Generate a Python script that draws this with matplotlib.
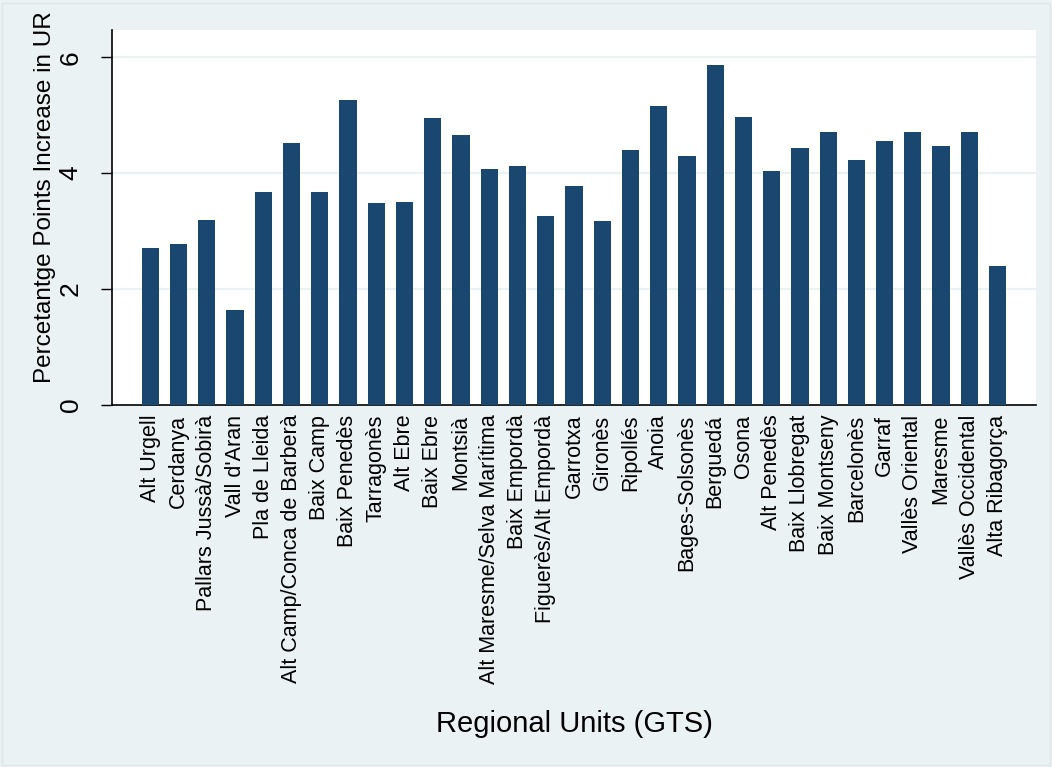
import matplotlib
matplotlib.use("Agg")
import matplotlib.pyplot as plt
import numpy as np

plt.rcParams['font.family'] = ['Liberation Sans', 'DejaVu Sans']

regions = ["Alt Urgell", "Cerdanya", "Pallars Jussà/Sobirà", "Vall d'Aran",
           "Pla de Lleida", "Alt Camp/Conca de Barberà", "Baix Camp",
           "Baix Penedès", "Tarragonès", "Alt Ebre", "Baix Ebre", "Montsià",
           "Alt Maresme/Selva Marítima", "Baix Empordà", "Figuerès/Alt Empordà",
           "Garrotxa", "Gironès", "Ripollés", "Anoia", "Bages-Solsonès",
           "Berguedá", "Osona", "Alt Penedès", "Baix Llobregat", "Baix Montseny",
           "Barcelonès", "Garraf", "Vallès Oriental", "Maresme",
           "Vallès Occidental", "Alta Ribagorça"]
increase = [2.71, 2.78, 3.19, 1.64, 3.67, 4.52, 3.67, 5.27, 3.48, 3.50,
            4.96, 4.66, 4.07, 4.12, 3.26, 3.77, 3.17, 4.40, 5.16, 4.30,
            5.87, 4.97, 4.04, 4.44, 4.71, 4.23, 4.56, 4.71, 4.46, 4.71, 2.40]
yticks = [0, 2, 4, 6]

bg = '#eaf2f3'
navy = '#1a476f'

fig = plt.figure(figsize=(10.52, 7.67), dpi=100, facecolor=bg)
ax = fig.add_axes([112/1052, 1-405/767, 924/1052, 375/767])
ax.set_facecolor('white')

x = np.arange(len(regions))
ax.bar(x, increase, width=0.61, color=navy, zorder=3)

ax.set_xlim(-1.356, 31.36)
ax.set_ylim(0, 6.47)
ax.set_yticks(yticks)
ax.set_yticklabels([str(v) for v in yticks], rotation=90, va='center')
for v in yticks[1:]:
    ax.axhline(v, color=bg, lw=1.6, zorder=1)

ax.set_xticks(x)
ax.set_xticklabels(regions, rotation=90, fontsize=15.5)
ax.tick_params(axis='x', length=0, pad=7)
ax.tick_params(axis='y', length=8, width=1, pad=13, labelsize=19)

for s in ['top', 'right']:
    ax.spines[s].set_visible(False)
for s in ['left', 'bottom']:
    ax.spines[s].set_linewidth(1.2)

ax.set_ylabel('Percetantge Points Increase in UR', fontsize=17.5)
ax.yaxis.set_label_coords(-0.0725, 0.555)
ax.yaxis.label.set_va('center')
ax.set_xlabel('Regional Units (GTS)', fontsize=21)
ax.xaxis.set_label_coords(0.5, -0.851)
ax.xaxis.label.set_va('center')

fig.patches.append(plt.Rectangle((0.002, 0.002), 0.996, 0.994, transform=fig.transFigure,
                                 fill=False, edgecolor='#dfe6e8', lw=1))

plt.savefig('out.png', dpi=100, facecolor=bg)
